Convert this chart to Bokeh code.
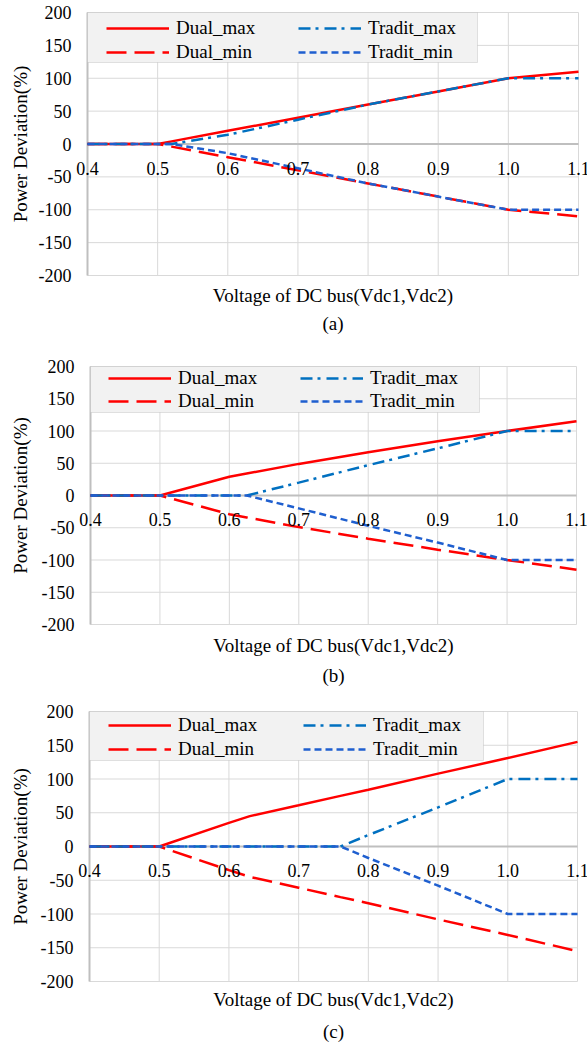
import math

from bokeh.plotting import figure
from bokeh.layouts import column
from bokeh.models import (ColumnDataSource, Legend, LegendItem, Label,
                          BoxAnnotation, Range1d)
from bokeh.embed import file_html
from bokeh.resources import INLINE

FONT = "Liberation Serif"

# Axis ticks and titles shared by the three panels
x_tick_values = [0.4, 0.5, 0.6, 0.7, 0.8, 0.9, 1.0, 1.1]
x_tick_labels = ["0.4", "0.5", "0.6", "0.7", "0.8", "0.9", "1.0", "1.1"]
y_tick_values = [-200, -150, -100, -50, 0, 50, 100, 150, 200]
y_tick_labels = ["-200", "-150", "-100", "-50", "0", "50", "100", "150", "200"]
x_title = "Voltage of DC bus(Vdc1,Vdc2)"
y_title = "Power Deviation(%)"

# Panel (a)
vdc_a = [0.4, 0.5, 0.52, 0.6, 0.7, 0.8, 0.9, 1.0, 1.1]
dual_max_a = [0, 0, 4, 20, 40, 60, 80, 100, 110]
dual_min_a = [0, 0, -4, -20, -40, -60, -80, -100, -110]
tradit_max_a = [0, 0, 0, 14, 37, 60, 80, 100, 100]
tradit_min_a = [0, 0, 0, -14, -37, -60, -80, -100, -100]

# Panel (b)
vdc_b = [0.4, 0.5, 0.6, 0.625, 0.7, 0.8, 0.9, 1.0, 1.1]
dual_max_b = [0, 0, 29, 34, 49, 67, 84, 100, 115]
dual_min_b = [0, 0, -29, -34, -49, -67, -84, -100, -115]
tradit_max_b = [0, 0, 0, 0, 20, 47, 73, 100, 100]
tradit_min_b = [0, 0, 0, 0, -20, -47, -73, -100, -100]

# Panel (c)
vdc_c = [0.4, 0.5, 0.6, 0.63, 0.7, 0.76, 0.8, 0.9, 1.0, 1.1]
dual_max_c = [0, 0, 35, 45, 61, 75, 84, 108, 131, 155]
dual_min_c = [0, 0, -35, -45, -61, -75, -84, -108, -131, -155]
tradit_max_c = [0, 0, 0, 0, 0, 0, 17, 58, 100, 100]
tradit_min_c = [0, 0, 0, 0, 0, 0, -17, -58, -100, -100]

RED = "#ff0000"
BLUE_MAX = "#0070c0"
BLUE_MIN = "#1f5fcf"
GRID = "#d9d9d9"
AXIS = "#bfbfbf"

X0, X1 = 0.4, 1.1
Y0, Y1 = -200, 200
W, H = 587, 348


def make_panel(vdc, d_max, d_min, t_max, t_min, caption,
               px_x0, px_x1, px_ytop, px_ybot,
               box_w, box_h, row1, pitch, dual_dx, tradit_dx,
               title_gap, caption_gap):
    # the frame covers the whole panel; ranges are stretched so that the
    # value window lands on the wanted pixels
    ppx = (px_x1 - px_x0) / (X1 - X0)
    ppy = (px_ybot - px_ytop) / (Y1 - Y0)
    xr = Range1d(X0 - px_x0 / ppx, X1 + (W - px_x1) / ppx)
    yr = Range1d(Y0 - (H - px_ybot) / ppy, Y1 + px_ytop / ppy)

    p = figure(width=W, height=H, x_range=xr, y_range=yr,
               output_backend="svg", toolbar_location=None,
               x_axis_location=None, y_axis_location=None,
               min_border=0)
    p.outline_line_color = None
    p.background_fill_color = "white"
    p.grid.visible = False

    # gridlines limited to the value window
    nx, ny = len(x_tick_values), len(y_tick_values)
    p.segment(x0=x_tick_values, x1=x_tick_values, y0=[Y0] * nx, y1=[Y1] * nx,
              line_color=GRID, line_width=1, level="underlay")
    p.segment(x0=[X0] * ny, x1=[X1] * ny, y0=y_tick_values, y1=y_tick_values,
              line_color=GRID, line_width=1, level="underlay")
    # axis lines: vertical at the left edge, horizontal through zero
    p.segment(x0=[X0], x1=[X0], y0=[Y0], y1=[Y1], line_color=AXIS,
              line_width=2, level="underlay")
    p.segment(x0=[X0], x1=[X1], y0=[0], y1=[0], line_color=AXIS,
              line_width=2, level="underlay")

    # tick labels
    for yv, txt in zip(y_tick_values, y_tick_labels):
        p.add_layout(Label(x=X0, y=yv, text=txt, text_align="right",
                           text_baseline="middle", x_offset=-16,
                           text_font=FONT, text_font_size="18px",
                           text_color="black"))
    for xv, txt in zip(x_tick_values, x_tick_labels):
        p.add_layout(Label(x=xv, y=0, text=txt, text_align="center",
                           text_baseline="middle", y_offset=-24,
                           text_font=FONT, text_font_size="18px",
                           text_color="black"))

    # axis titles and caption
    p.add_layout(Label(x=X0, y=(Y0 + Y1) / 2, text=y_title, angle=math.pi / 2,
                       text_align="center", text_baseline="middle",
                       x_offset=20 - px_x0, text_font=FONT,
                       text_font_size="19px", text_color="black"))
    p.add_layout(Label(x=(X0 + X1) / 2, y=Y0, text=x_title, text_align="center",
                       text_baseline="middle", y_offset=-title_gap,
                       text_font=FONT, text_font_size="19px", text_color="black"))
    p.add_layout(Label(x=(X0 + X1) / 2, y=Y0, text=caption, text_align="center",
                       text_baseline="middle", y_offset=-caption_gap,
                       text_font=FONT, text_font_size="19px", text_color="black"))

    src = ColumnDataSource(dict(v=vdc, dmax=d_max, dmin=d_min, tmax=t_max, tmin=t_min))
    r1 = p.line("v", "dmax", source=src, line_color=RED, line_width=2.5)
    r2 = p.line("v", "dmin", source=src, line_color=RED, line_width=2.5,
                line_dash="20 8")
    r3 = p.line("v", "tmax", source=src, line_color=BLUE_MAX, line_width=2.5,
                line_dash="12 5 3 6")
    r4 = p.line("v", "tmin", source=src, line_color=BLUE_MIN, line_width=2.5,
                line_dash="7 4")

    # legend box
    p.add_layout(BoxAnnotation(left=X0, right=X0 + box_w / ppx,
                               top=Y1, bottom=Y1 - box_h / ppy,
                               fill_color="#f2f2f2", fill_alpha=1,
                               line_color="#a6a6a6", line_width=1))
    item_h = 22
    spacing = pitch - item_h
    leg_h = 2 * item_h + spacing
    leg_y = H - (px_ytop + row1 - item_h / 2) - leg_h
    common = dict(orientation="vertical", padding=0, margin=0,
                  spacing=spacing, glyph_width=63, glyph_height=item_h,
                  label_height=item_h, label_standoff=7,
                  label_text_font=FONT, label_text_font_size="19px",
                  label_text_color="black",
                  background_fill_alpha=0, border_line_alpha=0)
    leg1 = Legend(items=[LegendItem(label="Dual_max", renderers=[r1]),
                         LegendItem(label="Dual_min", renderers=[r2])],
                  location=(px_x0 + dual_dx, leg_y), **common)
    leg2 = Legend(items=[LegendItem(label="Tradit_max", renderers=[r3]),
                         LegendItem(label="Tradit_min", renderers=[r4])],
                  location=(px_x0 + tradit_dx, leg_y), **common)
    p.add_layout(leg1)
    p.add_layout(leg2)
    return p


pa = make_panel(vdc_a, dual_max_a, dual_min_a, tradit_max_a, tradit_min_a, "(a)",
                px_x0=87, px_x1=578, px_ytop=12, px_ybot=275,
                box_w=390, box_h=50, row1=16, pitch=24, dual_dx=19, tradit_dx=211,
                title_gap=20, caption_gap=48)
pb = make_panel(vdc_b, dual_max_b, dual_min_b, tradit_max_b, tradit_min_b, "(b)",
                px_x0=90, px_x1=576, px_ytop=18, px_ybot=276,
                box_w=389, box_h=46, row1=12, pitch=23, dual_dx=18, tradit_dx=210,
                title_gap=21, caption_gap=51)
pc = make_panel(vdc_c, dual_max_c, dual_min_c, tradit_max_c, tradit_min_c, "(c)",
                px_x0=89, px_x1=577, px_ytop=15, px_ybot=285,
                box_w=394, box_h=49, row1=14, pitch=24, dual_dx=19, tradit_dx=214,
                title_gap=18, caption_gap=50)

layout = column(pa, pb, pc, spacing=0)
open("out.html", "w").write(file_html(layout, INLINE))
